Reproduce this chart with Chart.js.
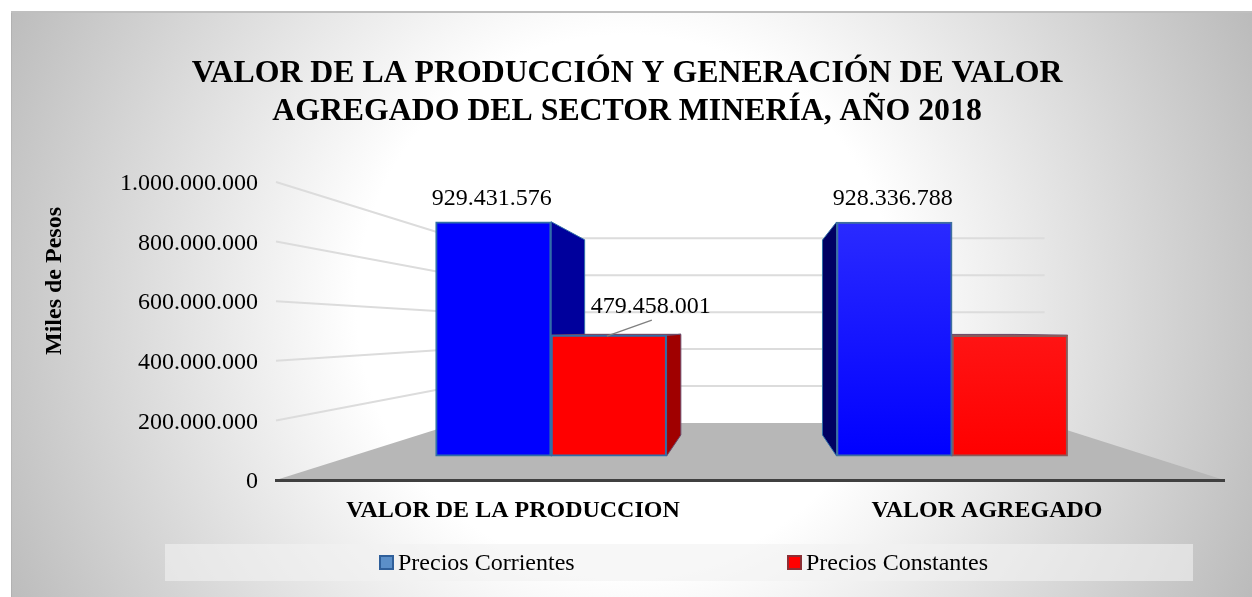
<!DOCTYPE html>
<html lang="es">
<head>
<meta charset="utf-8">
<title>Valor de la producción</title>
<script src="https://cdn.jsdelivr.net/npm/chart.js@4"></script>
<style>
  html, body { margin: 0; padding: 0; background: #fff; }
  canvas { display: block; }
</style>
</head>
<body>
<canvas id="plot" width="1252" height="597"></canvas>
<script>
// Datos
const categorias = ['VALOR DE LA PRODUCCION', 'VALOR AGREGADO'];
const preciosCorrientes = [929431576, 928336788];
const preciosConstantes = [479458001, 478900000];
const etiquetasCorrientes = [true, true];
const etiquetasConstantes = [true, false];
const serieNombres = ['Precios Corrientes', 'Precios Constantes'];
const titulo = ['VALOR DE LA PRODUCCIÓN Y GENERACIÓN DE VALOR', 'AGREGADO DEL SECTOR MINERÍA, AÑO 2018'];
const tituloEjeY = 'Miles de Pesos';

const FUENTE = '"Liberation Serif", "Times New Roman", serif';

// Perspectiva del grafico 3D: punto de fuga y profundidades
const fuga = {x: 752, y: 330};
const fondoPared = 0.62;
const fondoBarra = 0.833;

let proyectar = (x, y, s) => [fuga.x + (x - fuga.x) * s, fuga.y + (y - fuga.y) * s];

let formatoMiles = v => String(Math.round(v)).replace(/\B(?=(\d{3})+$)/g, '.');

let poligono = (ctx, puntos, relleno, borde) => {
  ctx.beginPath();
  puntos.forEach((p, i) => i ? ctx.lineTo(p[0], p[1]) : ctx.moveTo(p[0], p[1]));
  ctx.closePath();
  ctx.fillStyle = relleno;
  ctx.fill();
  if (borde) {
    ctx.strokeStyle = borde;
    ctx.lineWidth = 1;
    ctx.stroke();
  }
};

// Fondo, piso, lineas de la pared, titulo del eje y leyenda
const fondoPlugin = {
  id: 'fondo',
  beforeDraw(chart) {
    const {ctx, chartArea: a, scales} = chart;
    ctx.save();

    // panel con degradado radial
    const grad = ctx.createRadialGradient(626, 304, 0, 626, 304, 690);
    grad.addColorStop(0, '#ffffff');
    grad.addColorStop(0.39, '#ffffff');
    grad.addColorStop(1, '#bbbbbb');
    ctx.fillStyle = grad;
    ctx.fillRect(11, 11, 1241, 586);
    ctx.fillStyle = '#bfbfbf';
    ctx.fillRect(11, 11, 1241, 2);
    ctx.fillStyle = 'rgba(0,0,0,0.06)';
    ctx.fillRect(11, 13, 1, 584);

    // piso
    const yPiso = a.bottom;
    poligono(ctx, [
      [a.left, yPiso], [a.right, yPiso],
      proyectar(a.right, yPiso, fondoPared), proyectar(a.left, yPiso, fondoPared)
    ], '#b7b7b7');

    // lineas de division: pared lateral y pared del fondo
    ctx.strokeStyle = '#dcdcdc';
    ctx.lineWidth = 2;
    scales.y.ticks.forEach(t => {
      if (t.value === 0) return;
      const y = scales.y.getPixelForValue(t.value);
      const izq = proyectar(a.left, y, fondoPared);
      const der = proyectar(a.right, y, fondoPared);
      ctx.beginPath();
      ctx.moveTo(a.left, y);
      ctx.lineTo(izq[0], izq[1]);
      ctx.lineTo(der[0], der[1]);
      ctx.stroke();
    });

    // titulo del eje
    ctx.save();
    ctx.translate(55, 281);
    ctx.rotate(-Math.PI / 2);
    ctx.font = 'bold 24px ' + FUENTE;
    ctx.fillStyle = '#000';
    ctx.textAlign = 'center';
    ctx.textBaseline = 'middle';
    ctx.fillText(tituloEjeY, 0, 0);
    ctx.restore();

    // leyenda
    ctx.fillStyle = 'rgba(242,242,242,0.6)';
    ctx.fillRect(165, 544, 1028, 37);
    ctx.font = '24px ' + FUENTE;
    ctx.textBaseline = 'middle';
    ctx.textAlign = 'left';
    const cajas = [
      {x: 380, relleno: '#5b8fc9', borde: '#2f5f9a'},
      {x: 788, relleno: '#ff0000', borde: '#8c2f35'}
    ];
    chart.data.datasets.forEach((ds, i) => {
      const c = cajas[i];
      ctx.fillStyle = c.relleno;
      ctx.strokeStyle = c.borde;
      ctx.lineWidth = 2;
      ctx.fillRect(c.x, 556, 13, 13);
      ctx.strokeRect(c.x, 556, 13, 13);
      ctx.fillStyle = '#000';
      ctx.fillText(ds.label, c.x + 18, 564);
    });
    ctx.restore();
  }
};

// Caras laterales de las barras (van detras del frente)
const carasPlugin = {
  id: 'caras',
  beforeDatasetsDraw(chart) {
    const {ctx} = chart;
    ctx.save();
    chart.data.datasets.forEach((ds, d) => {
      chart.getDatasetMeta(d).data.forEach(bar => {
        const izq = bar.x - bar.width / 2;
        const der = bar.x + bar.width / 2;
        const arriba = bar.y;
        const abajo = bar.base;
        const borde = d === 0 ? '#2f6ea8' : '#6b4a6a';
        if (der < fuga.x) {
          poligono(ctx, [
            [der, arriba], proyectar(der, arriba, fondoBarra),
            proyectar(der, abajo, fondoBarra), [der, abajo]
          ], d === 0 ? '#00009c' : '#a00000', borde);
        } else if (izq > fuga.x) {
          poligono(ctx, [
            [izq, arriba], proyectar(izq, arriba, fondoBarra),
            proyectar(izq, abajo, fondoBarra), [izq, abajo]
          ], d === 0 ? '#000062' : '#7a0000', borde);
        }
        if (arriba > fuga.y) {
          poligono(ctx, [
            [izq, arriba], proyectar(izq, arriba, fondoBarra),
            proyectar(der, arriba, fondoBarra), [der, arriba]
          ], d === 0 ? '#0000c0' : '#c00000', borde);
        }
      });
    });
    ctx.restore();
  }
};

// Etiquetas de datos
const etiquetasPlugin = {
  id: 'etiquetas',
  afterDatasetsDraw(chart) {
    const {ctx} = chart;
    ctx.save();
    ctx.font = '24px ' + FUENTE;
    ctx.fillStyle = '#000';
    ctx.textAlign = 'center';
    ctx.textBaseline = 'middle';
    chart.data.datasets.forEach((ds, d) => {
      chart.getDatasetMeta(d).data.forEach((bar, i) => {
        if (!ds.etiquetas[i]) return;
        // la etiqueta de la serie constante va corrida y con linea guia
        const dx = d === 0 ? -1.5 : 42;
        const dy = d === 0 ? -23 : -28;
        ctx.fillText(formatoMiles(ds.data[i].y), bar.x + dx, bar.y + dy);
        if (d === 1) {
          ctx.strokeStyle = '#808080';
          ctx.lineWidth = 1.5;
          ctx.beginPath();
          ctx.moveTo(bar.x + 43, bar.y - 15);
          ctx.lineTo(bar.x - 2, bar.y + 1);
          ctx.stroke();
        }
      });
    });
    ctx.restore();
  }
};

// Segunda categoria con un degradado suave de arriba hacia abajo
let colorBarra = (base, claro) => c => {
  if (c.dataIndex !== 1 || !c.parsed) return base;
  const escala = c.chart.scales.yBarras;
  const g = c.chart.ctx.createLinearGradient(0, escala.getPixelForValue(c.parsed.y), 0, escala.getPixelForValue(0));
  g.addColorStop(0, claro);
  g.addColorStop(1, base);
  return g;
};

Chart.defaults.font.family = FUENTE;
Chart.defaults.color = '#000';

new Chart(document.getElementById('plot'), {
  type: 'bar',
  data: {
    labels: categorias,
    datasets: [
      {
        label: serieNombres[0],
        data: preciosCorrientes.map((v, i) => ({x: i, y: v})),
        etiquetas: etiquetasCorrientes,
        backgroundColor: colorBarra('#0000ff', '#2a2aff'),
        borderColor: ['#2f6ea8', '#3f6f9f'],
        borderWidth: 2,
        borderSkipped: false,
        barThickness: 115.5,
        xAxisID: 'xBarras',
        yAxisID: 'yBarras'
      },
      {
        label: serieNombres[1],
        data: preciosConstantes.map((v, i) => ({x: i, y: v})),
        etiquetas: etiquetasConstantes,
        backgroundColor: colorBarra('#ff0000', '#ff1414'),
        borderColor: ['#2f6ea8', '#8a5a5a'],
        borderWidth: 2,
        borderSkipped: false,
        barThickness: 115.5,
        xAxisID: 'xBarras',
        yAxisID: 'yBarras'
      }
    ]
  },
  options: {
    responsive: false,
    animation: false,
    devicePixelRatio: 1,
    layout: {padding: {left: 30, right: 28, top: 0, bottom: 0}},
    plugins: {
      legend: {display: false},
      tooltip: {enabled: false},
      title: {
        display: true,
        text: titulo,
        color: '#000',
        font: {size: 31.8, weight: 'bold', family: FUENTE, lineHeight: 1.22},
        padding: {top: 54, bottom: 50.4}
      }
    },
    scales: {
      // ejes visibles: el frente del piso
      x: {
        type: 'category',
        offset: true,
        grid: {display: false, drawTicks: false},
        border: {display: true, color: '#404040', width: 3},
        ticks: {font: {size: 24, weight: 'bold'}, padding: 16, maxRotation: 0},
        afterFit: eje => { eje.height = 117; }
      },
      y: {
        type: 'linear',
        position: 'left',
        min: 0,
        max: 1000000000,
        grid: {display: false, drawTicks: false},
        border: {display: false},
        ticks: {stepSize: 200000000, font: {size: 24}, padding: 18, labelOffset: 2, callback: v => formatoMiles(v)},
        afterFit: eje => { eje.width = 246; }
      },
      // ejes ocultos: el plano donde estan paradas las barras
      xBarras: {type: 'linear', display: false, offset: false, min: -0.686, max: 1.678, grid: {display: false}},
      yBarras: {type: 'linear', display: false, min: -95000000, max: 1087000000, grid: {display: false}}
    }
  },
  plugins: [fondoPlugin, carasPlugin, etiquetasPlugin]
});
</script>
</body>
</html>
